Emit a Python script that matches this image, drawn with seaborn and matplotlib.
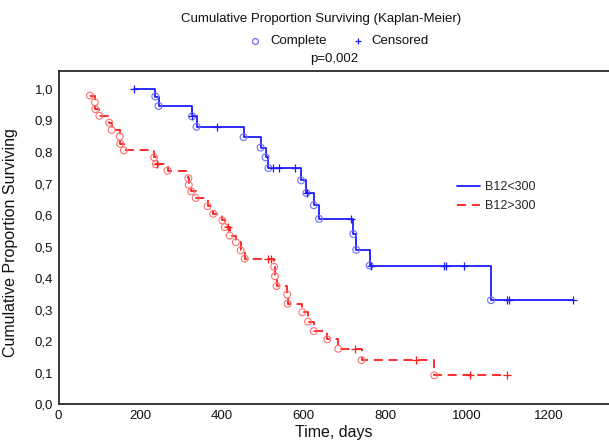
import numpy as np
import pandas as pd
import matplotlib
matplotlib.use("Agg")
import matplotlib.pyplot as plt
from matplotlib.lines import Line2D
import seaborn as sns

# ---- data ----
# group B12<300
low_start_time = 185
low_start_surv = 1.0
low_end_time = 1261
low_event_times = [237, 245, 327, 338, 453, 495, 507, 514, 594, 607, 625, 638, 722, 729, 762, 1059]
low_event_surv = [0.976, 0.946, 0.913, 0.880, 0.847, 0.814, 0.783, 0.749, 0.710, 0.670, 0.631, 0.588,
                  0.540, 0.490, 0.440, 0.330]
low_cens_times = [185, 328, 388, 524, 540, 579, 609, 717, 764, 945, 950, 994, 1099, 1103, 1261]
low_cens_surv = [1.0, 0.913, 0.880, 0.749, 0.749, 0.749, 0.670, 0.588, 0.440, 0.440, 0.440, 0.440,
                 0.330, 0.330, 0.330]

# group B12>300
high_end_time = 1098
high_event_times = [77, 89, 90, 100, 124, 130, 150, 151, 160, 234, 238, 267, 318, 319, 325, 336,
                    365, 379, 401, 407, 419, 434, 446, 456, 528, 530, 534, 560, 561, 597, 611,
                    625, 658, 685, 742, 920]
high_event_surv = [0.979, 0.958, 0.936, 0.915, 0.893, 0.870, 0.849, 0.826, 0.805, 0.783, 0.761,
                   0.741, 0.717, 0.696, 0.675, 0.654, 0.628, 0.604, 0.583, 0.562, 0.535, 0.514,
                   0.488, 0.462, 0.436, 0.406, 0.375, 0.348, 0.319, 0.292, 0.262, 0.232, 0.206,
                   0.176, 0.140, 0.092]
high_cens_times = [242, 415, 513, 521, 725, 876, 1008, 1098]
high_cens_surv = [0.761, 0.562, 0.462, 0.462, 0.176, 0.140, 0.092, 0.092]

group_labels = ["B12<300", "B12>300"]
x_ticks = [0, 200, 400, 600, 800, 1000, 1200]
y_ticks = [0.0, 0.1, 0.2, 0.3, 0.4, 0.5, 0.6, 0.7, 0.8, 0.9, 1.0]

# ---- style ----
sns.set_style("white")
plt.rcParams["font.family"] = ["Liberation Sans", "DejaVu Sans"]

BLUE = "#1c1cff"
BLUE_M = "#6b6bff"
RED = "#ff1c1c"
RED_M = "#ff7070"
LW = 1.3
DASH = (0, (5, 3.2))

fig = plt.figure(figsize=(6.09, 4.43), dpi=100)
ax = fig.add_axes([0.0961, 0.0874, 0.9039, 0.7524])

# step curves
low_curve = pd.DataFrame({
    "t": [low_start_time] + low_event_times + [low_end_time],
    "s": [low_start_surv] + low_event_surv + [low_event_surv[-1]],
})
high_curve = pd.DataFrame({
    "t": high_event_times + [high_end_time],
    "s": high_event_surv + [high_event_surv[-1]],
})

sns.lineplot(data=low_curve, x="t", y="s", estimator=None, sort=False, ax=ax,
             drawstyle="steps-post", color=BLUE, linewidth=LW)
sns.lineplot(data=high_curve, x="t", y="s", estimator=None, sort=False, ax=ax,
             drawstyle="steps-post", color=RED, linewidth=LW)
ax.lines[-1].set_linestyle(DASH)

# complete (event) markers
sns.scatterplot(x=low_event_times, y=low_event_surv, ax=ax, marker="o", s=24,
                facecolor="none", edgecolor=BLUE_M, linewidth=0.8, zorder=3)
sns.scatterplot(x=high_event_times, y=high_event_surv, ax=ax, marker="o", s=24,
                facecolor="none", edgecolor=RED_M, linewidth=0.8, zorder=3)
# censored markers
sns.scatterplot(x=low_cens_times, y=low_cens_surv, ax=ax, marker="+", s=32,
                color=BLUE, linewidth=0.9, zorder=4)
sns.scatterplot(x=high_cens_times, y=high_cens_surv, ax=ax, marker="+", s=32,
                color=RED, linewidth=0.9, zorder=4)

ax.set_xlim(0, 1348)
ax.set_ylim(0, 1.057)
ax.set_xticks(x_ticks)
ax.set_xticklabels([str(v) for v in x_ticks], fontsize=9.5)
ax.set_yticks(y_ticks)
ax.set_yticklabels([f"{v:.1f}".replace(".", ",") for v in y_ticks], fontsize=9.5)
ax.tick_params(length=0, pad=4, colors="#111111")

ax.set_xlabel("Time, days", fontsize=11.5, color="#111111", labelpad=2)
ax.set_ylabel("Cumulative Proportion Surviving", fontsize=11.5, color="#111111")
ax.yaxis.set_label_coords(-0.073, 0.485)

for side in ["left", "bottom", "top"]:
    ax.spines[side].set_visible(True)
    ax.spines[side].set_color("#2a2a2a")
    ax.spines[side].set_linewidth(1.3)
ax.spines["right"].set_visible(False)

# in-axes group legend
handles = [Line2D([], [], color=BLUE, linewidth=LW),
           Line2D([], [], color=RED, linewidth=LW, linestyle=DASH)]
ax.legend(handles, group_labels, loc="center left", bbox_to_anchor=(0.723, 0.623),
          frameon=False, fontsize=9, handlelength=1.9, handletextpad=0.35,
          labelspacing=0.55, borderpad=0, borderaxespad=0)

# header texts
fig.text(321 / 609, 1 - 19 / 443, "Cumulative Proportion Surviving (Kaplan-Meier)",
         ha="center", va="center", fontsize=9.5, color="#111111")
fig.text(334 / 609, 1 - 59 / 443, "p=0,002", ha="center", va="center",
         fontsize=9.5, color="#111111")
fig.add_artist(Line2D([255 / 609], [1 - 41 / 443], transform=fig.transFigure,
                      marker="o", markersize=4.2, markerfacecolor="none",
                      markeredgecolor=BLUE_M, markeredgewidth=0.9, linestyle="none"))
fig.add_artist(Line2D([357.5 / 609], [1 - 41 / 443], transform=fig.transFigure,
                      marker="+", markersize=5, markeredgecolor=BLUE,
                      markeredgewidth=0.9, linestyle="none"))
fig.text(270.7 / 609, 1 - 41 / 443, "Complete", ha="left", va="center",
         fontsize=9.5, color="#111111")
fig.text(371.7 / 609, 1 - 41 / 443, "Censored", ha="left", va="center",
         fontsize=9.5, color="#111111")

fig.savefig("out.png", dpi=100)
